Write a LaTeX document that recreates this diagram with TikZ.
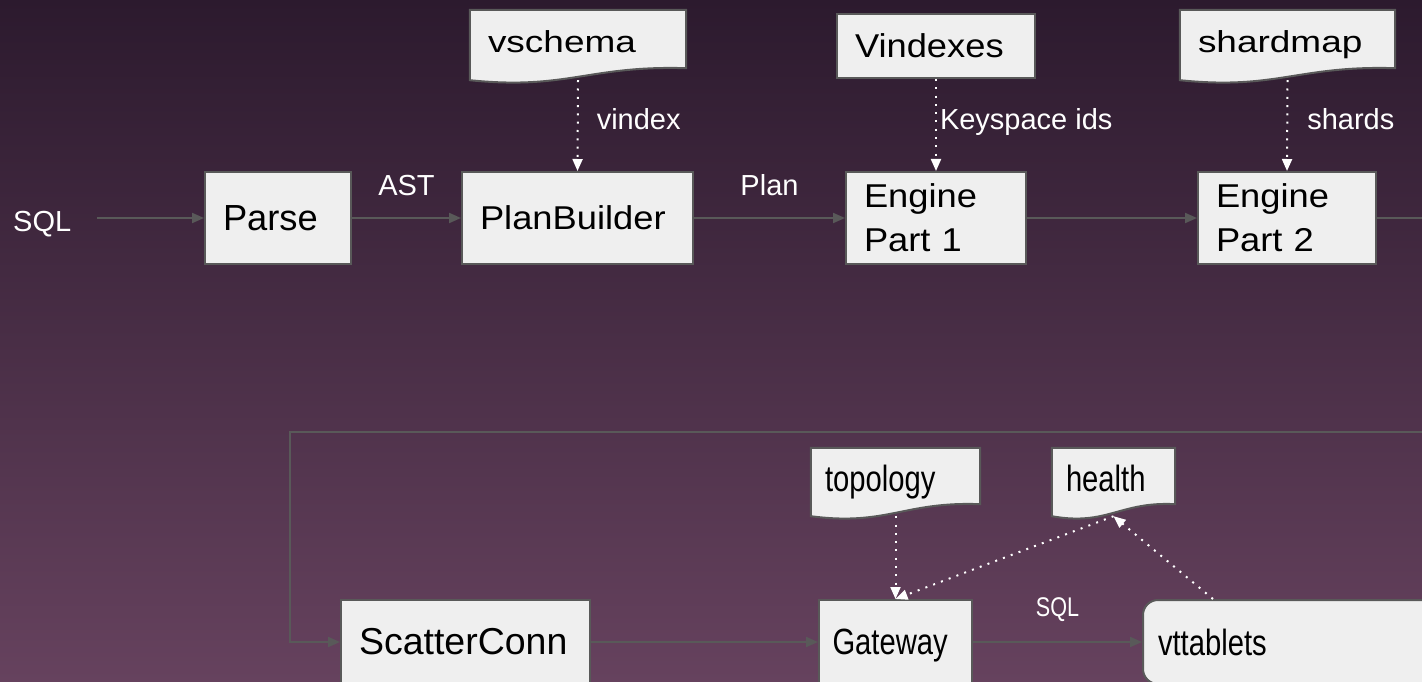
\documentclass[tikz,border=0pt]{standalone}
\usepackage{fontspec}
\setmainfont{Liberation Sans}
\newfontfamily\plainfont{Liberation Sans}
\newfontfamily\widefont[FakeStretch=1.1]{Liberation Sans}
\newfontfamily\widerfont[FakeStretch=1.22]{Liberation Sans}
\newfontfamily\narrowfont[FakeStretch=0.8]{Liberation Sans}
\usetikzlibrary{arrows.meta,calc}
\definecolor{bgtop}{HTML}{2C1A2E}
\definecolor{bgmid}{HTML}{43263F}
\definecolor{bgbot}{HTML}{66425E}
\definecolor{boxfill}{HTML}{EFEFEF}
\definecolor{edgegray}{HTML}{595959}
\pgfdeclarelayer{back}
\pgfdeclarelayer{paper}
\pgfsetlayers{back,paper,main}
\tikzset{
  box/.style={draw=edgegray, fill=boxfill, line width=2pt, inner xsep=18pt,
    inner ysep=0pt, align=left, text=black},
  doc/.style={inner xsep=18pt, inner ysep=0pt, align=left, text=black},
  flow/.style={draw=edgegray, line width=2pt, -{Triangle[length=12pt,width=10pt]}},
  hint/.style={draw=white, line width=2pt, dash pattern=on 2pt off 6.3pt,
    -{Triangle[length=12pt,width=10pt]}},
  tag/.style={text=white, inner sep=0pt, font=\plainfont\fontsize{29}{35}\selectfont},
}
\newcommand\docoutline[1]{%
  \path[draw=edgegray, fill=boxfill, line width=2pt]
    (#1.north west) -- (#1.north east) -- ($(#1.south east)+(0,-12)$)
    .. controls ($(#1.south east)!0.45!(#1.south west)+(0,-15)$)
    and ($(#1.south west)!0.45!(#1.south east)+(0,10)$) .. (#1.south west) -- cycle;}
\begin{document}
\begin{tikzpicture}[x=1pt,y=-1pt]
  \useasboundingbox (0,0) rectangle (1422,682);
  \begin{pgfonlayer}{back}
    \shade[top color=bgtop, middle color=bgmid, bottom color=bgbot] (0,0) rectangle (1422,682);
  \end{pgfonlayer}
  \clip (0,0) rectangle (1422,682);

  % query path
  \node[tag, anchor=base west] (sqlin) at (13,231) {SQL};
  \node[box, minimum width=146pt, minimum height=92pt, text width=110pt,
    font=\plainfont\fontsize{36.3}{43}\selectfont] (parse) at (278,218) {Parse};
  \node[box, minimum width=231pt, minimum height=92pt, text width=195pt,
    font=\widefont\fontsize{33}{44.3}\selectfont] (plan) at (577.5,218) {PlanBuilder};
  \node[box, minimum width=180pt, minimum height=92pt, text width=144pt,
    font=\widefont\fontsize{33}{44.3}\selectfont] (eng1) at (936,218) {Engine\\Part 1};
  \node[box, minimum width=178pt, minimum height=92pt, text width=142pt,
    font=\widefont\fontsize{33}{44.3}\selectfont] (eng2) at (1287,218) {Engine\\Part 2};

  \node[doc, minimum width=216pt, minimum height=70pt, text width=180pt, text depth=6.4pt,
    font=\widerfont\fontsize{30.3}{36}\selectfont] (vschema) at (578,45) {vschema};
  \node[box, minimum width=198pt, minimum height=64pt, text width=162pt,
    font=\widefont\fontsize{33}{40}\selectfont] (vindexes) at (936,46) {Vindexes};
  \node[doc, minimum width=215pt, minimum height=70pt, text width=179pt, text depth=6.4pt,
    font=\widerfont\fontsize{30.3}{36}\selectfont] (shardmap) at (1287.5,45) {shardmap};

  % execution path
  \node[box, minimum width=249pt, minimum height=84pt, text width=213pt,
    font=\plainfont\fontsize{37.5}{44}\selectfont] (scatter) at (465.5,642) {ScatterConn};
  \node[box, minimum width=153pt, minimum height=84pt, inner xsep=13.5pt, text width=126pt,
    text depth=0pt, font=\narrowfont\fontsize{36.5}{44}\selectfont] (gateway) at (895.5,642) {Gateway};
  \node[box, rounded corners=15pt, minimum width=296pt, minimum height=84pt, inner xsep=15pt,
    text width=266pt, font=\narrowfont\fontsize{36.5}{44}\selectfont] (vttablets) at (1291,642) {vttablets};

  \node[doc, minimum width=169pt, minimum height=68pt, inner xsep=14pt, text width=141pt,
    text depth=7.7pt, font=\narrowfont\fontsize{36.5}{44}\selectfont] (topology) at (895.5,482) {topology};
  \node[doc, minimum width=123pt, minimum height=68pt, inner xsep=14pt, text width=95pt,
    text depth=7.7pt, font=\narrowfont\fontsize{36.5}{44}\selectfont] (health) at (1113.5,482) {health};

  \begin{pgfonlayer}{paper}
    \docoutline{vschema}
    \docoutline{shardmap}
    \docoutline{topology}
    \docoutline{health}
  \end{pgfonlayer}

  \coordinate (farright) at (1432,432);
  \coordinate (farleft) at (290,432);

  \draw[flow, shorten <=26pt] (sqlin.east |- parse) -- (parse);
  \draw[flow] (parse) -- node[tag, above=21pt] {AST} (plan);
  \draw[flow] (plan) -- node[tag, above=21pt] {Plan} (eng1);
  \draw[flow] (eng1) -- (eng2);
  \draw[flow] (eng2) -| (farright) -- (farleft) |- (scatter);
  \draw[flow] (scatter) -- (gateway);
  \draw[flow] (gateway) -- node[tag, above=19pt, font=\narrowfont\fontsize{27}{32}\selectfont] {SQL} (vttablets);

  \draw[hint] (vschema.south) -- node[tag, pos=0.43, right=18pt] {vindex} (plan.north);
  \draw[hint] (vindexes.south) -- node[tag, pos=0.47, right=3pt] {Keyspace ids} (eng1.north);
  \draw[hint] (shardmap.south) -- node[tag, pos=0.43, right=19pt] {shards} (eng2.north);
  \draw[hint] (topology.south) -- (gateway.north);
  \draw[hint] (health.south) -- (gateway.north);
  \draw[hint] ([xshift=-78pt]vttablets.north) -- (health.south);
\end{tikzpicture}
\end{document}
